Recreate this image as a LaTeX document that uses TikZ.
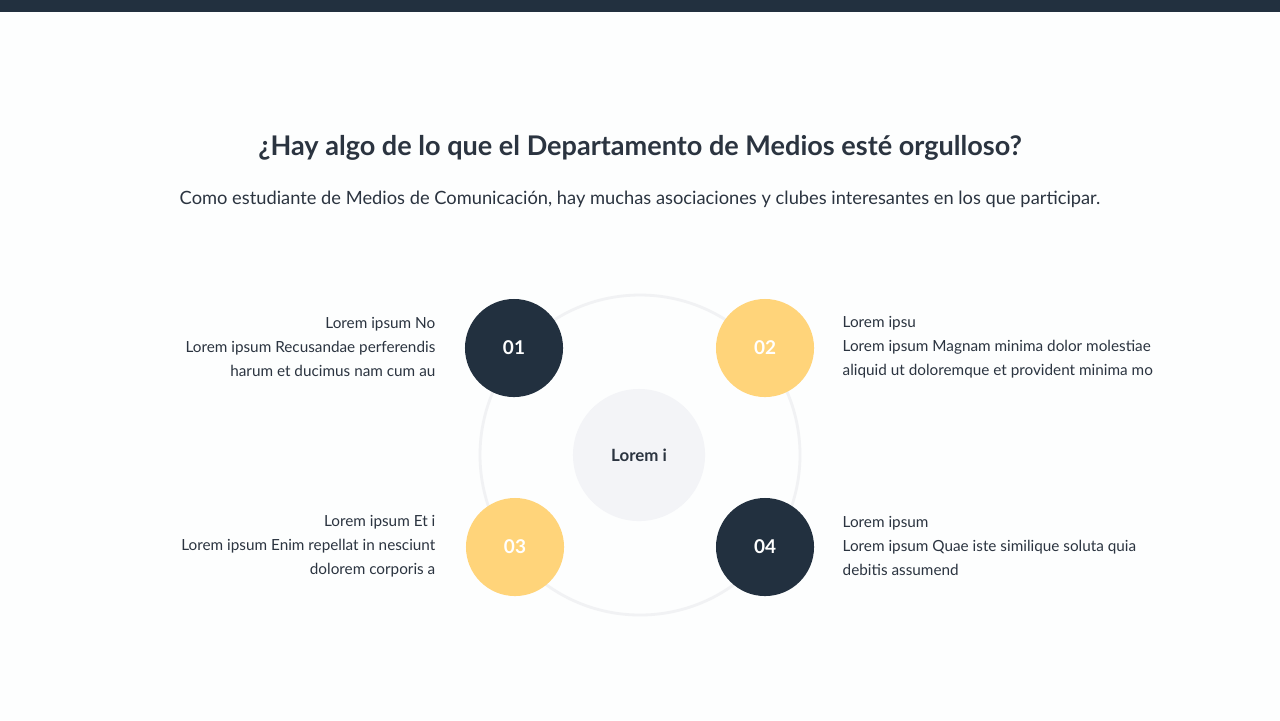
\documentclass[tikz,border=0pt]{standalone}
\usepackage{fontspec}
\setmainfont{Lato}
\definecolor{navy}{HTML}{22303F}
\definecolor{gold}{HTML}{FFD47A}
\definecolor{txt}{HTML}{2B3440}
\definecolor{bg}{HTML}{FDFEFE}
\definecolor{ring}{HTML}{F1F2F4}
\definecolor{ctr}{HTML}{F3F4F7}
\tikzset{
  num/.style={circle,minimum size=0.98cm,inner sep=0,text=white,font=\fontsize{5.4}{6}\selectfont\bfseries},
  lbl/.style={text=txt,font=\fontsize{4.35}{6.8}\selectfont,inner sep=0},
}
\begin{document}
\begin{tikzpicture}[x=0.01cm,y=-0.01cm]
\fill[bg] (0,0) rectangle (1280,720);
\useasboundingbox (0,0) rectangle (1280,720);
\fill[navy] (0,0) rectangle (1280,12);
\node[text=txt,font=\fontsize{7.7}{9}\selectfont\bfseries] (title) at (640,148) {¿Hay algo de lo que el Departamento de Medios esté orgulloso?};
\node[text=txt,font=\fontsize{5.2}{6}\selectfont] (sub) at (640,199) {Como estudiante de Medios de Comunicación, hay muchas asociaciones y clubes interesantes en los que participar.};
\draw[ring,line width=0.8pt] (640,455) circle[radius=160];
\node[circle,fill=ctr,minimum size=1.32cm,inner sep=0,text=txt,font=\fontsize{4.8}{6}\selectfont\bfseries] (c) at (639,455) {Lorem i};
\node[num,fill=navy] (n1) at (514,348) {01};
\node[num,fill=gold] (n2) at (765,348) {02};
\node[num,fill=gold] (n3) at (515,547) {03};
\node[num,fill=navy] (n4) at (765,547) {04};
\node[lbl,anchor=east,align=right] (t1) at (436,347) {Lorem ipsum No\\Lorem ipsum Recusandae perferendis\\harum et ducimus nam cum au};
\node[lbl,anchor=west,align=left] (t2) at (842,347) {Lorem ipsu\\Lorem ipsum Magnam minima dolor molestiae\\aliquid ut doloremque et provident minima mo};
\node[lbl,anchor=east,align=right] (t3) at (436,546) {Lorem ipsum Et i\\Lorem ipsum Enim repellat in nesciunt\\dolorem corporis a};
\node[lbl,anchor=west,align=left] (t4) at (842,546) {Lorem ipsum\\Lorem ipsum Quae iste similique soluta quia\\debitis assumend};
\end{tikzpicture}
\end{document}
